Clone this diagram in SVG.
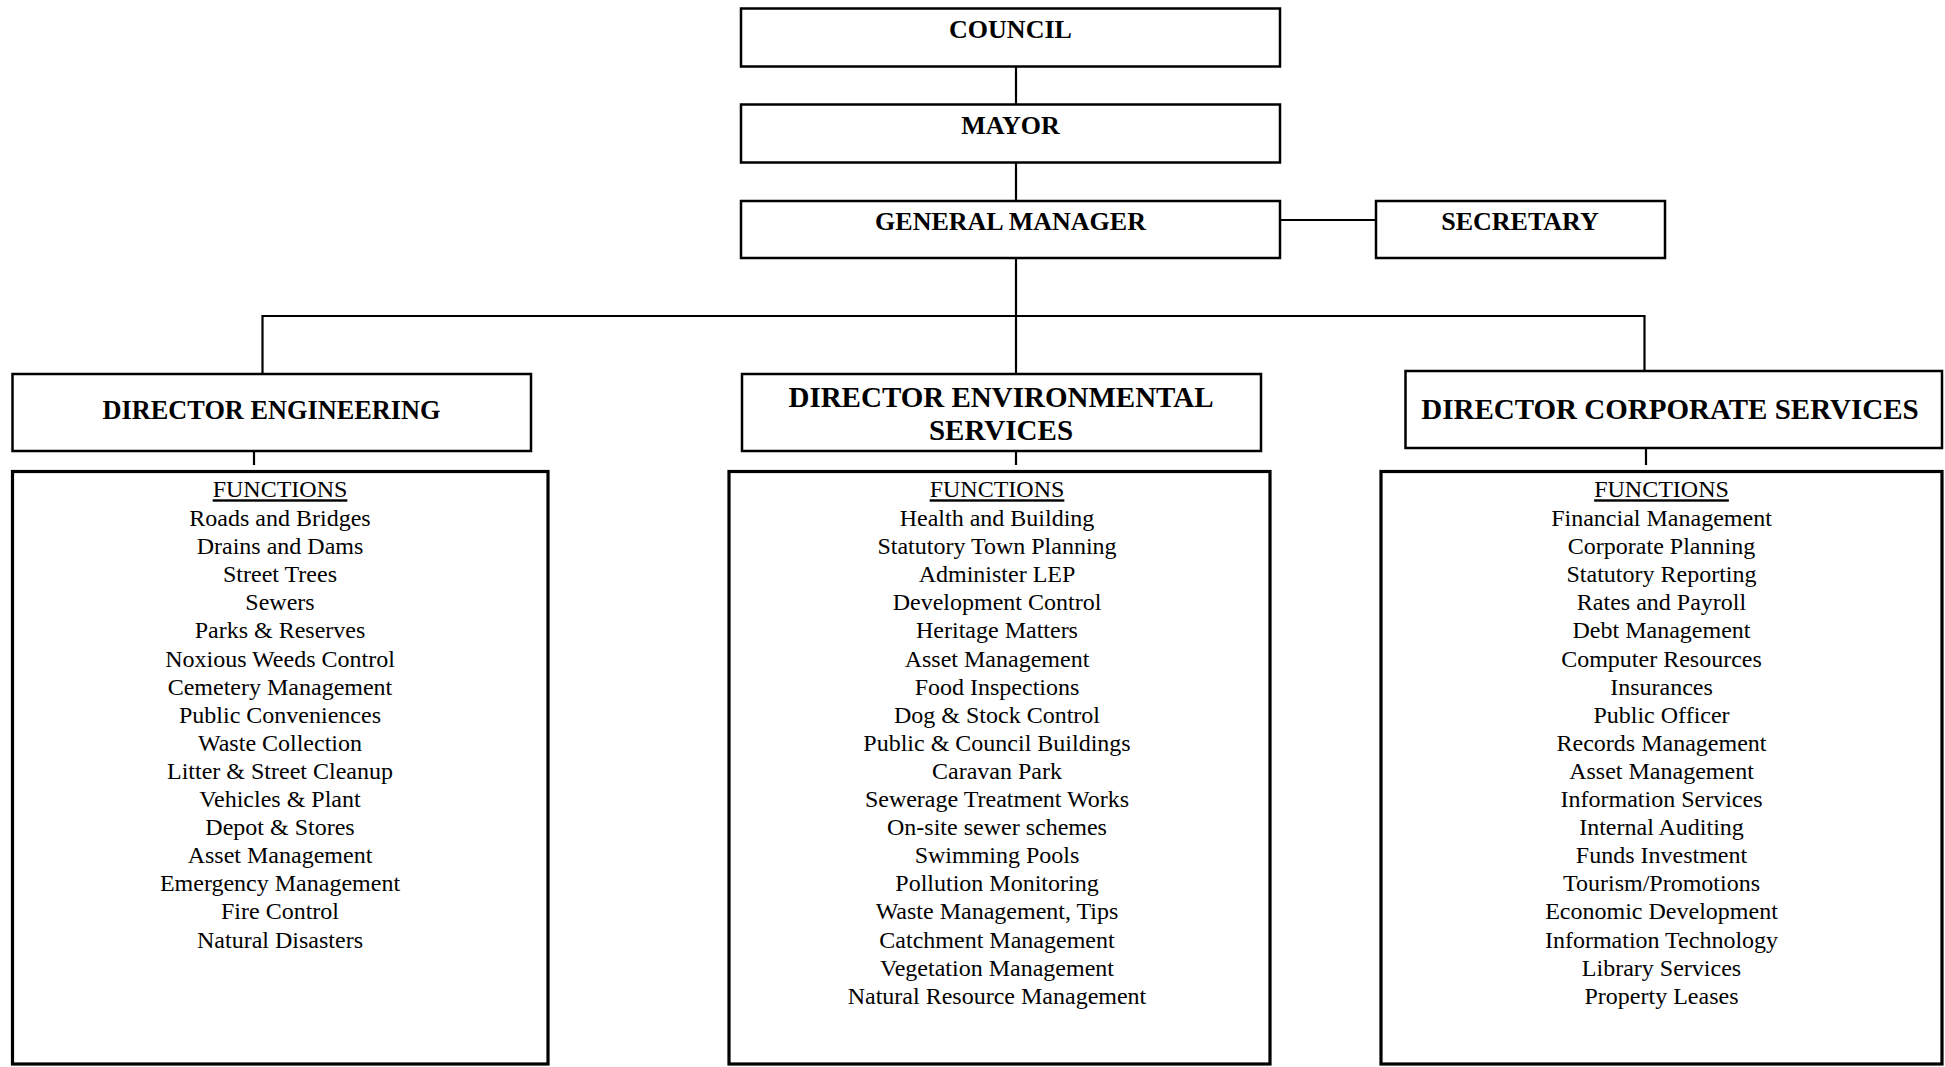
<svg xmlns="http://www.w3.org/2000/svg" width="1945" height="1067" viewBox="0 0 1945 1067">
<style>
.box{fill:#fff;stroke:#000;stroke-width:2.5}
.fbox{fill:#fff;stroke:#000;stroke-width:3.2}
.conn{stroke:#000;stroke-width:2.2;fill:none}
.t{font-family:"Liberation Serif","Times New Roman",serif;font-weight:bold;text-anchor:middle;fill:#000}
.f{font-family:"Liberation Serif","Times New Roman",serif;font-size:24px;text-anchor:middle;fill:#000}
</style>
<rect width="1945" height="1067" fill="#fff"/>
<g id="connectors">
<line class="conn" x1="1016" y1="67" x2="1016" y2="104"/>
<line class="conn" x1="1016" y1="163" x2="1016" y2="201"/>
<line class="conn" x1="1016" y1="258" x2="1016" y2="374"/>
<line class="conn" x1="1280" y1="220" x2="1376" y2="220"/>
<polyline class="conn" points="262.5,374 262.5,316 1644.5,316 1644.5,371"/>
<line class="conn" x1="254" y1="451" x2="254" y2="465"/>
<line class="conn" x1="1016" y1="451" x2="1016" y2="465"/>
<line class="conn" x1="1646" y1="448" x2="1646" y2="465"/>
</g>
<g id="council">
<rect class="box" x="741" y="8.5" width="539" height="58"/>
<text class="t" x="1010.5" y="38.3" font-size="26">COUNCIL</text>
</g>
<g id="mayor">
<rect class="box" x="741" y="104.5" width="539" height="58"/>
<text class="t" x="1010.5" y="134.3" font-size="26">MAYOR</text>
</g>
<g id="general-manager">
<rect class="box" x="741" y="201" width="539" height="57"/>
<text class="t" x="1010.5" y="230.3" font-size="26">GENERAL MANAGER</text>
</g>
<g id="secretary">
<rect class="box" x="1376" y="201" width="289" height="57"/>
<text class="t" x="1520" y="230.3" font-size="26">SECRETARY</text>
</g>
<g id="director-engineering">
<rect class="box" x="12.5" y="374" width="518.5" height="77"/>
<text class="t" x="271.5" y="419" font-size="26.3">DIRECTOR ENGINEERING</text>
</g>
<g id="director-environmental">
<rect class="box" x="742" y="374" width="519" height="77"/>
<text class="t" x="1001" y="407.2" font-size="29">DIRECTOR ENVIRONMENTAL</text>
<text class="t" x="1001" y="439.5" font-size="29">SERVICES</text>
</g>
<g id="director-corporate">
<rect class="box" x="1405.5" y="371" width="536.5" height="77"/>
<text class="t" x="1670" y="418.8" font-size="29">DIRECTOR CORPORATE SERVICES</text>
</g>
<g id="functions-engineering">
<rect class="fbox" x="12.5" y="471.5" width="535.5" height="592.5"/>
<text class="f" x="280" y="497.3" text-decoration="underline">FUNCTIONS</text>
<text class="f" x="280" y="526">Roads and Bridges</text>
<text class="f" x="280" y="554.1">Drains and Dams</text>
<text class="f" x="280" y="582.2">Street Trees</text>
<text class="f" x="280" y="610.3">Sewers</text>
<text class="f" x="280" y="638.4">Parks &amp; Reserves</text>
<text class="f" x="280" y="666.5">Noxious Weeds Control</text>
<text class="f" x="280" y="694.6">Cemetery Management</text>
<text class="f" x="280" y="722.7">Public Conveniences</text>
<text class="f" x="280" y="750.8">Waste Collection</text>
<text class="f" x="280" y="778.9">Litter &amp; Street Cleanup</text>
<text class="f" x="280" y="807">Vehicles &amp; Plant</text>
<text class="f" x="280" y="835.1">Depot &amp; Stores</text>
<text class="f" x="280" y="863.2">Asset Management</text>
<text class="f" x="280" y="891.3">Emergency Management</text>
<text class="f" x="280" y="919.4">Fire Control</text>
<text class="f" x="280" y="947.5">Natural Disasters</text>
</g>
<g id="functions-environmental">
<rect class="fbox" x="729" y="471.5" width="541" height="592.5"/>
<text class="f" x="997" y="497.3" text-decoration="underline">FUNCTIONS</text>
<text class="f" x="997" y="526">Health and Building</text>
<text class="f" x="997" y="554.1">Statutory Town Planning</text>
<text class="f" x="997" y="582.2">Administer LEP</text>
<text class="f" x="997" y="610.3">Development Control</text>
<text class="f" x="997" y="638.4">Heritage Matters</text>
<text class="f" x="997" y="666.5">Asset Management</text>
<text class="f" x="997" y="694.6">Food Inspections</text>
<text class="f" x="997" y="722.7">Dog &amp; Stock Control</text>
<text class="f" x="997" y="750.8">Public &amp; Council Buildings</text>
<text class="f" x="997" y="778.9">Caravan Park</text>
<text class="f" x="997" y="807">Sewerage Treatment Works</text>
<text class="f" x="997" y="835.1">On-site sewer schemes</text>
<text class="f" x="997" y="863.2">Swimming Pools</text>
<text class="f" x="997" y="891.3">Pollution Monitoring</text>
<text class="f" x="997" y="919.4">Waste Management, Tips</text>
<text class="f" x="997" y="947.5">Catchment Management</text>
<text class="f" x="997" y="975.6">Vegetation Management</text>
<text class="f" x="997" y="1003.7">Natural Resource Management</text>
</g>
<g id="functions-corporate">
<rect class="fbox" x="1381" y="471.5" width="561" height="592.5"/>
<text class="f" x="1661.5" y="497.3" text-decoration="underline">FUNCTIONS</text>
<text class="f" x="1661.5" y="526">Financial Management</text>
<text class="f" x="1661.5" y="554.1">Corporate Planning</text>
<text class="f" x="1661.5" y="582.2">Statutory Reporting</text>
<text class="f" x="1661.5" y="610.3">Rates and Payroll</text>
<text class="f" x="1661.5" y="638.4">Debt Management</text>
<text class="f" x="1661.5" y="666.5">Computer Resources</text>
<text class="f" x="1661.5" y="694.6">Insurances</text>
<text class="f" x="1661.5" y="722.7">Public Officer</text>
<text class="f" x="1661.5" y="750.8">Records Management</text>
<text class="f" x="1661.5" y="778.9">Asset Management</text>
<text class="f" x="1661.5" y="807">Information Services</text>
<text class="f" x="1661.5" y="835.1">Internal Auditing</text>
<text class="f" x="1661.5" y="863.2">Funds Investment</text>
<text class="f" x="1661.5" y="891.3">Tourism/Promotions</text>
<text class="f" x="1661.5" y="919.4">Economic Development</text>
<text class="f" x="1661.5" y="947.5">Information Technology</text>
<text class="f" x="1661.5" y="975.6">Library Services</text>
<text class="f" x="1661.5" y="1003.7">Property Leases</text>
</g>
</svg>
